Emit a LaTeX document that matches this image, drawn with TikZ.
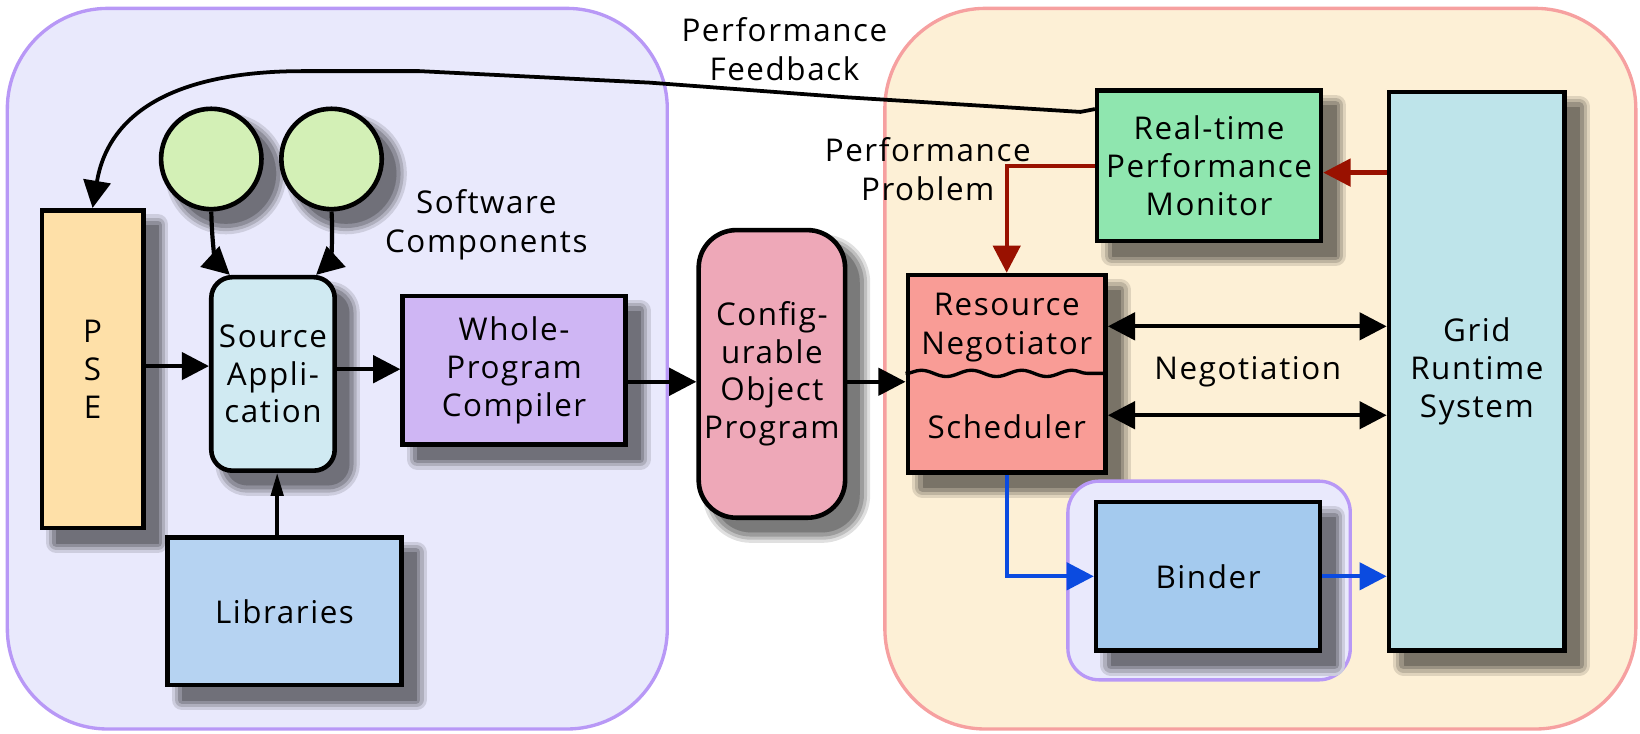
\documentclass[tikz,border=0pt]{standalone}
\usepackage{fontspec}
\setmainfont[LetterSpace=5]{Open Sans}
\usetikzlibrary{arrows.meta,decorations.pathmorphing}

\definecolor{lavfill}{HTML}{E9E9FC}
\definecolor{lavline}{HTML}{B898F6}
\definecolor{creamfill}{HTML}{FDF0D6}
\definecolor{pinkline}{HTML}{F6A0A0}
\definecolor{psefill}{HTML}{FEE0A8}
\definecolor{compfill}{HTML}{D3F0B6}
\definecolor{srcfill}{HTML}{D0EAF2}
\definecolor{libfill}{HTML}{B6D3F2}
\definecolor{wpcfill}{HTML}{CFB6F4}
\definecolor{copfill}{HTML}{EEA8B8}
\definecolor{rsfill}{HTML}{F99C96}
\definecolor{monfill}{HTML}{8FE6AF}
\definecolor{gridfill}{HTML}{BEE4EA}
\definecolor{bindfill}{HTML}{A4CAEE}
\definecolor{probred}{HTML}{991100}
\definecolor{bindblue}{HTML}{0B4BE0}

\tikzset{
  panel/.style={line width=1.6pt, rounded corners=48pt},
  % soft drop shadow, shaded towards the colour of the ground it falls on
  shadowlayer/.style 2 args={preaction={draw=#1, fill=#1, line width=#2,
    line join=round, transform canvas={shift={(7pt,-7pt)}}}},
  shadowon/.style={
    shadowlayer={#1!88!black}{10pt},
    shadowlayer={#1!75!black}{7pt},
    shadowlayer={#1!61!black}{4pt},
    shadowlayer={#1!48!black}{0.01pt}},
  block/.style={draw=black, line width=2.2pt, align=center, inner sep=0pt,
    font=\fontsize{15}{18}\selectfont},
  txt/.style={align=center, inner sep=0pt, font=\fontsize{15}{18.5}\selectfont},
  arr/.style={line width=2pt, -{Triangle[length=13pt,width=13pt]}},
  darr/.style={line width=2pt,
    {Triangle[length=13pt,width=13pt]}-{Triangle[length=13pt,width=13pt]}},
}

\begin{document}
\begin{tikzpicture}[x=0.5pt, y=-0.5pt]
\useasboundingbox (0,0) rectangle (1568,701);

% two domains
\draw[panel, draw=lavline, fill=lavfill] (7,8) rectangle (638,697);
\draw[panel, draw=pinkline, fill=creamfill] (846,8) rectangle (1564,697);

% left domain: program preparation
\node[block, shadowon=lavfill, fill=psefill, minimum width=48.5pt,
  minimum height=152pt] (pse) at (88.5,353) {P\\S\\E};
\node[block, shadowon=lavfill, circle, fill=compfill, minimum size=48pt]
  (c1) at (202,152) {};
\node[block, shadowon=lavfill, circle, fill=compfill, minimum size=48pt]
  (c2) at (317,152) {};
\node[block, shadowon=lavfill, fill=srcfill, rounded corners=10pt,
  minimum width=59pt, minimum height=92.5pt] (src) at (261,357.5)
  {Source\\Appli-\\cation};
\node[block, shadowon=lavfill, fill=libfill, minimum width=112pt,
  minimum height=70.5pt] (lib) at (272,584.5) {Libraries};
\node[block, shadowon=lavfill, fill=wpcfill, minimum width=106.5pt,
  minimum height=71pt] (wpc) at (491.5,354) {Whole-\\Program\\Compiler};
\node[block, shadowon=white, fill=copfill, rounded corners=18pt,
  minimum width=70pt, minimum height=137.5pt] (cop) at (738,357.5)
  {Config-\\urable\\Object\\Program};

% right domain: execution environment
\node[block, shadowon=creamfill, fill=rsfill, minimum width=94.5pt,
  minimum height=94.5pt] (rs) at (962.5,357.5) {};
\node[txt] (rsneg) at (962.5,313) {Resource\\Negotiator};
\node[txt] (rssch) at (962.5,408) {Scheduler};
\draw[line width=1.6pt, decorate,
  decoration={snake, amplitude=1.5pt, segment length=24pt}]
  (rs.west |- 0,357) -- (rs.east |- 0,357);

\node[block, shadowon=creamfill, fill=monfill, minimum width=107pt,
  minimum height=72pt] (mon) at (1156,158.5) {Real-time\\Performance\\Monitor};
\node[block, shadowon=creamfill, fill=gridfill, minimum width=84pt,
  minimum height=267pt] (grid) at (1412,355) {Grid\\Runtime\\System};
\node[draw=lavline, fill=lavfill, line width=1.6pt, rounded corners=15pt,
  minimum width=135pt, minimum height=95pt] (bindout) at (1156,555) {};
\node[block, shadowon=lavfill, fill=bindfill, minimum width=107pt,
  minimum height=71pt] (binder) at (1155,551) {Binder};

% labels
\node[txt] (fbtxt) at (750,47) {Performance\\Feedback};
\node[txt] (probtxt) at (887,162) {Performance\\Problem};
\node[txt] (swtxt) at (465,215) {Software\\Components};
\node[txt] (negtxt) at (1193,355) {Negotiation};

% program flow
\draw[arr] (pse.east |- 0,350) -- (src.west |- 0,350);
\draw[arr] (src.east |- 0,353) -- (wpc.west |- 0,353);
\draw[arr] (wpc.east |- 0,365) -- (cop.west |- 0,365);
\draw[arr] (cop.east |- 0,365) -- (rs.west |- 0,365);
\draw[line width=1.6pt, -{Triangle[length=11pt,width=6pt]}]
  (lib.north -| 265,0) -- (src.south -| 265,0);
\draw[arr] (c1.south) .. controls (203,245) and (208,252) ..
  ([xshift=10pt]src.north west);
\draw[arr] (c2.south) .. controls (319,242) and (314,252) ..
  ([xshift=-10pt]src.north east);

% negotiation
\draw[darr] (rs.east |- 0,312) -- (grid.west |- 0,312);
\draw[darr] (rs.east |- 0,397) -- (grid.west |- 0,397);

% monitoring
\draw[arr, probred] (grid.west |- 0,165) -- (mon.east |- 0,165);
\draw[arr, probred] (mon.west) -| (rs.north);

% binding
\draw[arr, bindblue] (rs.south) |- (binder.west);
\draw[arr, bindblue] (binder.east) -- (binder.east -| grid.west);

% feedback to the PSE
\draw[arr, line width=1.8pt] ([yshift=-10pt]mon.north west) -- (1033,107)
  -- (809,93) -- (621,79) -- (401,68) -- (290,68)
  .. controls (170,68) and (104,106) .. (pse.north);
\end{tikzpicture}
\end{document}
